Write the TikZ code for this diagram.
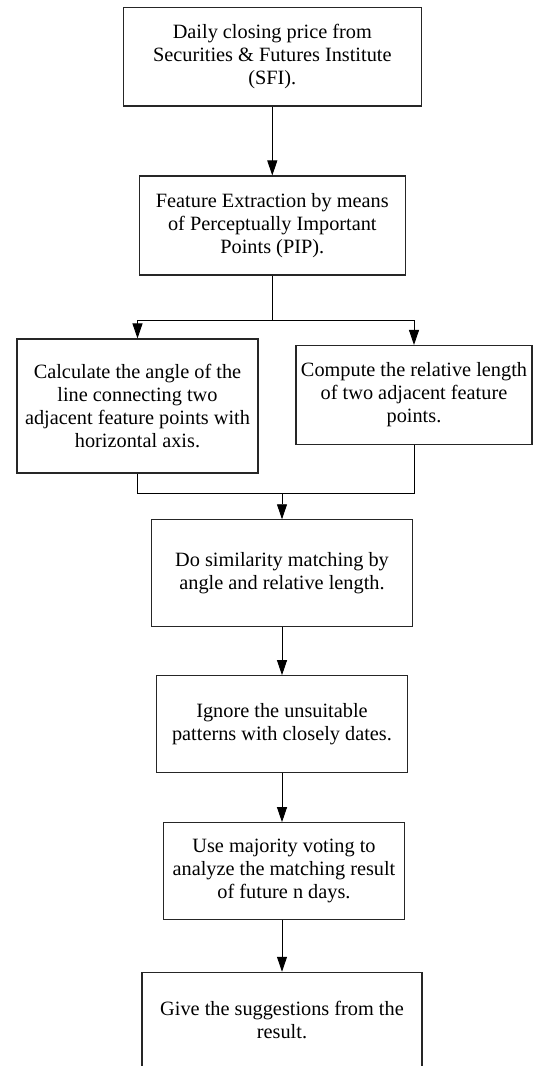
\documentclass[tikz,border=0pt]{standalone}
\usepackage{fontspec}
\setmainfont{Liberation Serif}
\usetikzlibrary{arrows.meta}
\begin{document}
\begin{tikzpicture}[x=1pt,y=1pt,
  box/.style={draw=black!85, line width=1.1pt, align=center, inner sep=0pt,
    font=\fontsize{20.3}{22.9}\selectfont},
  conn/.style={draw=black, line width=0.9pt},
  arr/.style={conn, -{Triangle[length=15pt,width=10pt]}}]
\useasboundingbox (0,0) rectangle (536,-1066);
\clip (0,0) rectangle (536,-1066);
\node[box, minimum width=298.5pt, minimum height=98.5pt] (b1) at (272.3,-56.7)
  {Daily closing price from\\Securities \& Futures Institute\\(SFI).};
\node[box, minimum width=265.5pt, minimum height=99pt] (b2) at (272.3,-225.5)
  {Feature Extraction by means\\of Perceptually Important\\Points (PIP).};
\node[box, minimum width=241pt, minimum height=134pt] (bl) at (137.5,-406)
  {Calculate the angle of the\\line connecting two\\adjacent feature points with\\horizontal axis.};
\node[box, minimum width=236pt, minimum height=99pt] (br) at (414,-395)
  {Compute the relative length\\of two adjacent feature\\points.};
\node[box, minimum width=260.6pt, minimum height=107pt] (b3) at (282,-573.3)
  {Do similarity matching by\\angle and relative length.};
\node[box, minimum width=250.3pt, minimum height=96.6pt] (b4) at (282,-724)
  {Ignore the unsuitable\\patterns with closely dates.};
\node[box, minimum width=241.4pt, minimum height=96.6pt] (b5) at (284,-871)
  {Use majority voting to\\analyze the matching result\\of future n days.};
\node[box, minimum width=280pt, minimum height=96pt] (b6) at (282,-1020.3)
  {Give the suggestions from the\\result.};
\coordinate (s) at (272.3,-320.5);
\coordinate (m) at (282,-493.8);
\draw[arr] (b1) -- (b2);
\draw[conn] (b2.south) -- (s);
\draw[arr] (s) -| (bl.north);
\draw[arr] (s) -| (br.north);
\draw[conn] (bl.south) |- (m) -| (br.south);
\draw[arr] (m) -- (b3.north);
\draw[arr] (b3.south) -- (b4.north);
\draw[arr] (b4.south) -- (b4.south |- b5.north);
\draw[arr] (b6.north |- b5.south) -- (b6.north);
\end{tikzpicture}
\end{document}
